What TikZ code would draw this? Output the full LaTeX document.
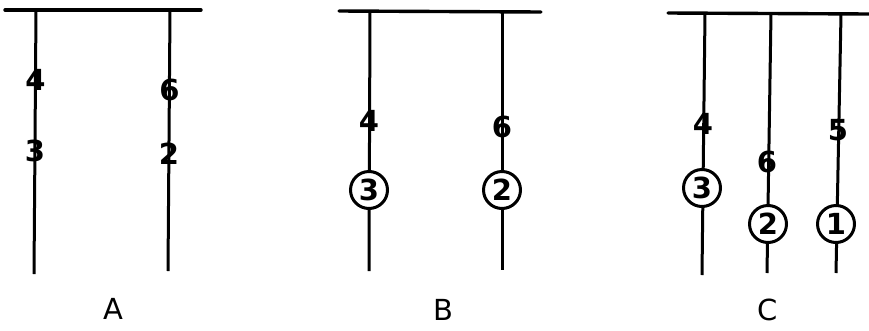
\documentclass[tikz,border=0pt]{standalone}
\usepackage{fontspec}
\setmainfont{DejaVu Sans}
\begin{document}
\begin{tikzpicture}[x=1pt,y=-1pt,
  ln/.style={line width=3.4pt,line cap=round},
  wire/.style={line width=3pt},
  num/.style={font=\bfseries\fontsize{29}{32}\selectfont,inner sep=0pt},
  circ/.style={num,draw,circle,line width=3pt,minimum size=37pt,fill=white},
  lab/.style={font=\fontsize{29}{32}\selectfont,inner sep=0pt}]
\useasboundingbox (0,0) rectangle (869,330);
% Panel A
\coordinate (a0) at (5,10); \coordinate (a1) at (201,10);
\coordinate (at1) at (36,10); \coordinate (ab1) at (34,274);
\coordinate (at2) at (170,10); \coordinate (ab2) at (168,271);
\draw[ln] (a0) -- (a1);
\draw[wire] (at1) -- (ab1);
\draw[wire] (at2) -- (ab2);
\node[num] (a4) at (35.5,80) {4};
\node[num] (a3) at (35,151) {3};
\node[num] (a6) at (169.5,90) {6};
\node[num] (a2) at (169,154) {2};
\node[lab] (la) at (113,309) {A};
% Panel B
\coordinate (b0) at (339,11); \coordinate (b1) at (541,12);
\coordinate (bt1) at (370,11); \coordinate (bb1) at (369,271);
\coordinate (bt2) at (502,12); \coordinate (bb2) at (502,270);
\draw[ln] (b0) -- (b1);
\draw[wire] (bt1) -- (bb1);
\draw[wire] (bt2) -- (bb2);
\node[num] (b4) at (369,121) {4};
\node[circ] (b3) at (369,190) {3};
\node[num] (b6) at (502,127) {6};
\node[circ] (b2) at (502,190) {2};
\node[lab] (lb) at (443,310) {B};
% Panel C
\coordinate (c0) at (668,13); \coordinate (c1) at (869,14);
\coordinate (ct1) at (705,13); \coordinate (cb1) at (702,275);
\coordinate (ct2) at (771,13); \coordinate (cb2) at (767,273);
\coordinate (ct3) at (841,14); \coordinate (cb3) at (836,273);
\draw[ln] (c0) -- (c1);
\draw[wire] (ct1) -- (cb1);
\draw[wire] (ct2) -- (cb2);
\draw[wire] (ct3) -- (cb3);
\node[num] (c4) at (703,124) {4};
\node[circ] (c3) at (702,188) {3};
\node[num] (c6) at (767,162) {6};
\node[circ] (c2) at (768,224) {2};
\node[num] (c5) at (838,130) {5};
\node[circ] (c1n) at (836,224) {1};
\node[lab] (lc) at (768,310) {C};
\end{tikzpicture}
\end{document}
